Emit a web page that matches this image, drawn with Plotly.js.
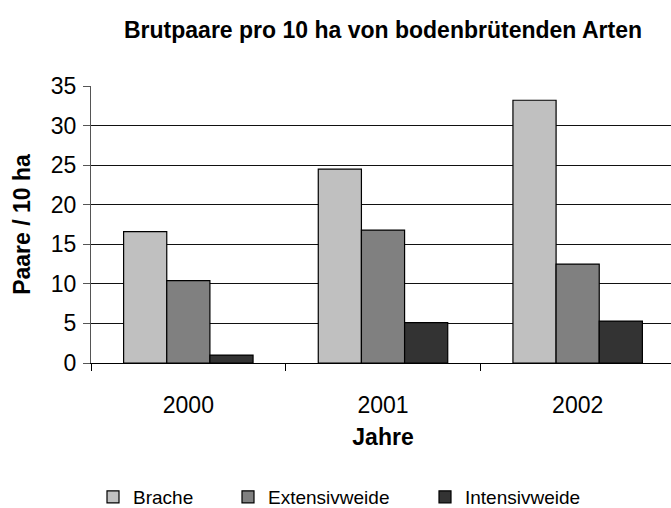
<!DOCTYPE html>
<html><head><meta charset="utf-8">
<script src="https://cdn.plot.ly/plotly-3.0.1.min.js"></script>
<style>html,body{margin:0;padding:0;overflow:hidden;background:#fff}</style>
</head><body><div id="chart"></div>
<script>
const years = ['2000', '2001', '2002'];
const brache = [16.6, 24.5, 33.2];
const extensivweide = [10.4, 16.8, 12.5];
const intensivweide = [1.0, 5.1, 5.3];
const seriesNames = ['Brache', 'Extensivweide', 'Intensivweide'];

const font = 'Arial, "Liberation Sans", sans-serif';
const colors = ['#c0c0c0', '#808080', '#333333'];
const vals = [brache, extensivweide, intensivweide];
const legendIds = ['legend', 'legend2', 'legend3'];
const legendTextX = [133, 268, 465];
const W = 675, H = 508, L = 91, R = 0, T = 86, B = 145;
const pw = W - L - R, ph = H - T - B;

const traces = vals.map((v, i) => ({
  type: 'bar', x: years, y: v, name: seriesNames[i],
  marker: {color: colors[i], line: {color: '#000', width: 1.2}},
  legend: legendIds[i], hoverinfo: 'skip'
}));

const layout = {
  width: W, height: H,
  margin: {l: L, r: R, t: T, b: B, autoexpand: false},
  paper_bgcolor: '#fff', plot_bgcolor: '#fff',
  font: {family: font, color: '#000', size: 23},
  title: {text: '<b>Brutpaare pro 10 ha von bodenbrütenden Arten</b>', font: {size: 23, family: font},
          xref: 'paper', x: 0.5, xanchor: 'center', yref: 'container', y: 1 - 30/H, yanchor: 'middle',
          automargin: false},
  barmode: 'group', bargap: 0.335, bargroupgap: 0,
  xaxis: {
    type: 'category', tickson: 'boundaries', ticks: 'outside', ticklen: 7, tickcolor: '#000',
    showline: true, linecolor: '#000', linewidth: 1, showgrid: false, automargin: false,
    tickfont: {size: 23}, ticklabelstandoff: 21,
    title: {text: '<b>Jahre</b>', font: {size: 23}, standoff: 12}
  },
  yaxis: {
    range: [0, 35], dtick: 5, ticks: 'outside', ticklen: 7, tickcolor: '#555',
    showline: true, linecolor: '#555', linewidth: 1, automargin: false,
    showgrid: true, gridcolor: '#111', gridwidth: 1, zeroline: false,
    tickfont: {size: 23}, ticklabelstandoff: 2,
    title: {text: '<b>Paare / 10 ha</b>', font: {size: 23}, standoff: 13}
  },
  showlegend: true
};
legendIds.forEach((id, i) => {
  layout[id] = {
    orientation: 'h', x: (legendTextX[i] - 40 - L) / pw, xanchor: 'left',
    y: -(497 - (H - B)) / ph, yanchor: 'middle',
    font: {size: 19, family: font}, bgcolor: 'rgba(0,0,0,0)', borderwidth: 0
  };
});

Plotly.newPlot('chart', traces, layout, {displayModeBar: false, staticPlot: true});
</script></body></html>
